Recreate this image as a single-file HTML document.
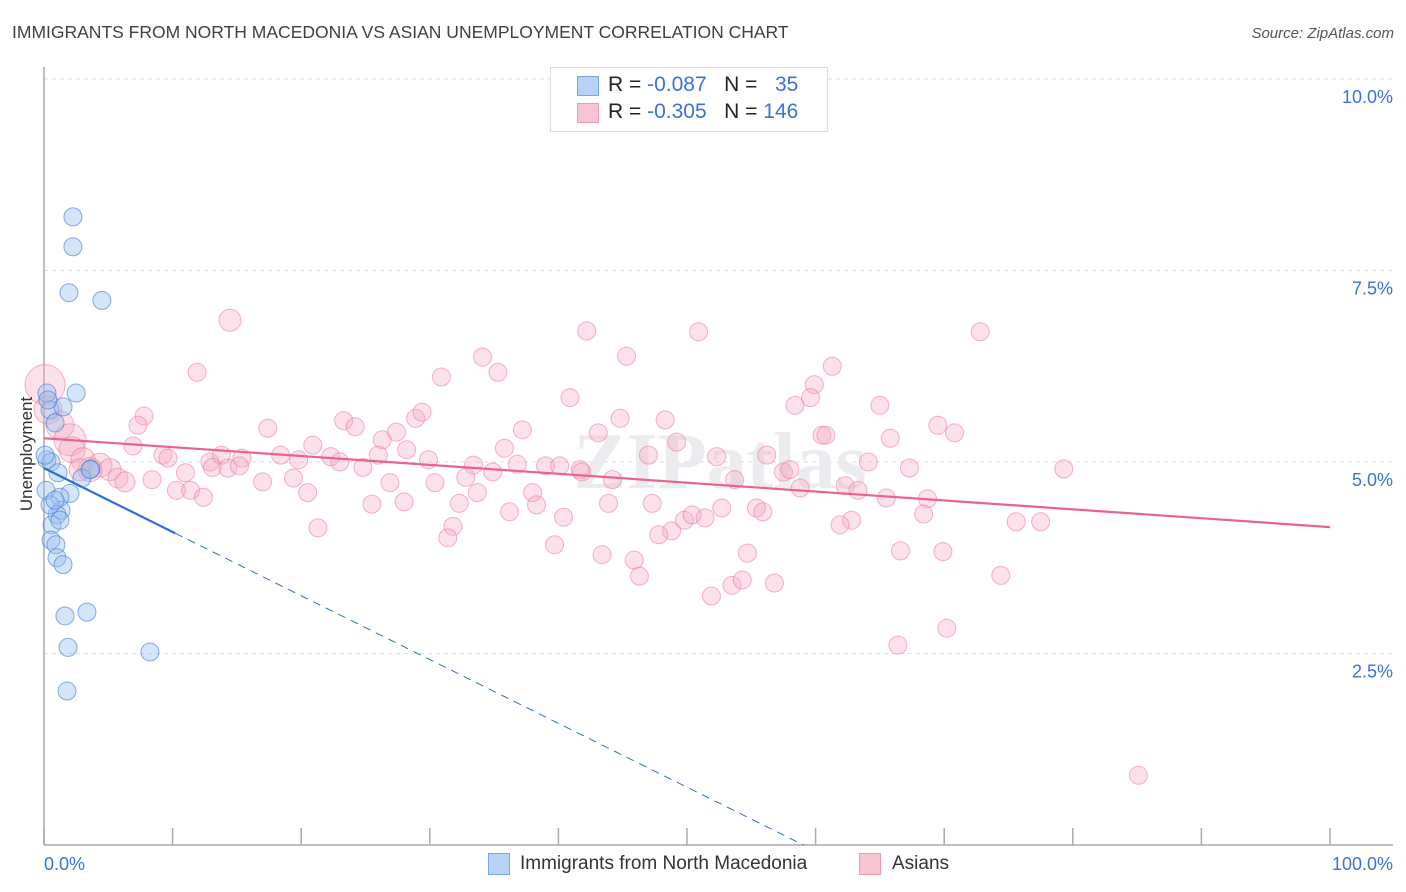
<!DOCTYPE html>
<html><head><meta charset="utf-8"><style>
body{margin:0;background:#fff;font-family:"Liberation Sans",sans-serif;}
#wrap{position:relative;width:1406px;height:892px;overflow:hidden;}
.t{position:absolute;white-space:nowrap;}
</style></head><body>
<div id="wrap">
<div class="t" style="left:12px;top:22px;font-size:17.5px;color:#404040;">IMMIGRANTS FROM NORTH MACEDONIA VS ASIAN UNEMPLOYMENT CORRELATION CHART</div>
<div class="t" style="right:12px;top:25px;font-size:15px;color:#555;font-style:italic;">Source: ZipAtlas.com</div>
<svg id="chart" width="1406" height="892" style="position:absolute;left:0;top:0"></svg>
<div style="position:absolute;left:550px;top:67px;width:276px;height:63px;border:1px solid #ddd;background:#fff;">
 <div style="position:absolute;left:26px;top:8px;width:20px;height:18px;background:#b7d2f7;border:1px solid #7aa6e6;"></div>
 <div class="t" style="left:57px;top:5px;font-size:21px;color:#222;">R = <span style="color:#3b72d8">-0.087</span>&nbsp;&nbsp;&nbsp;N = &nbsp;&nbsp;<span style="color:#3b72d8">35</span></div>
 <div style="position:absolute;left:26px;top:35px;width:20px;height:18px;background:#f9c5d3;border:1px solid #ee9ab2;"></div>
 <div class="t" style="left:57px;top:32px;font-size:21px;color:#222;">R = <span style="color:#3b72d8">-0.305</span>&nbsp;&nbsp;&nbsp;N = <span style="color:#3b72d8">146</span></div>
</div>
<div class="t" style="left:-30px;top:444px;font-size:17px;color:#333;transform:rotate(-90deg);">Unemployment</div>
<div style="position:absolute;left:488px;top:853px;width:20px;height:20px;background:#b7d2f7;border:1px solid #7aa6e6;"></div>
<div class="t" style="left:520px;top:853px;font-size:19px;color:#333;">Immigrants from North Macedonia</div>
<div style="position:absolute;left:859px;top:853px;width:20px;height:20px;background:#f9c5d3;border:1px solid #ee9ab2;"></div>
<div class="t" style="left:892px;top:853px;font-size:19px;color:#333;">Asians</div>
</div>
<script>
const yTicks=[2.5,5.0,7.5,10.0];
const yTickLabels=["2.5%","5.0%","7.5%","10.0%"];
const xTickCount=10;
const blueX=[2.25,2.25,1.94,4.5,2.5,0.23,0.47,1.48,0.86,0.23,0.54,1.09,3.65,2.95,2.02,0.16,1.24,1.32,1.01,0.62,0.54,0.93,1.01,1.48,1.63,3.34,1.87,8.24,1.79,0.47,0.08,1.24,0.31,3.58,0.86];
const blueY=[8.20,7.81,7.21,7.11,5.90,5.90,5.68,5.72,5.51,5.03,5.00,4.86,4.91,4.79,4.59,4.63,4.54,4.37,4.31,4.18,3.98,3.92,3.75,3.66,2.99,3.04,2.58,2.52,2.01,4.44,5.09,4.24,5.81,4.90,4.50];
const pinkX=[14.46,11.9,42.2,50.9,72.8,45.3,34.1,35.3,30.9,61.3,59.9,59.6,40.9,58.4,65.0,44.8,48.3,7.78,7.31,17.4,23.3,24.2,28.9,29.4,26.3,27.4,20.9,37.2,43.1,49.2,60.5,60.8,65.8,69.5,70.8,6.92,9.25,9.64,12.9,13.8,15.4,18.4,19.8,22.3,23.0,24.8,26.0,28.2,29.9,33.4,34.9,35.8,36.8,39.0,40.1,41.7,41.8,47.0,52.3,56.2,57.5,58.0,64.1,67.3,79.3,11.0,13.1,14.3,15.2,17.0,19.4,20.5,26.9,30.4,32.8,33.7,38.0,38.3,32.3,44.2,53.7,58.8,62.3,63.3,65.5,68.7,8.40,10.3,11.4,12.4,25.5,28.0,21.3,31.8,31.4,36.2,40.4,43.9,47.3,48.8,47.8,49.8,50.4,51.4,52.7,55.4,55.9,62.8,61.9,68.4,75.6,77.5,39.7,43.4,45.9,46.3,51.9,53.5,54.3,54.7,56.8,66.6,69.9,74.4,66.4,70.2,85.1,0.08,0.31,1.24,2.02,2.18,3.03,4.35,5.13,5.75,6.30,3.58,2.80];
const pinkY=[6.85,6.17,6.71,6.70,6.70,6.38,6.37,6.17,6.11,6.25,6.01,5.84,5.84,5.74,5.74,5.57,5.55,5.60,5.48,5.44,5.54,5.46,5.57,5.65,5.29,5.39,5.22,5.42,5.38,5.26,5.35,5.35,5.31,5.48,5.38,5.21,5.09,5.05,5.00,5.09,5.05,5.09,5.03,5.07,5.00,4.93,5.09,5.16,5.03,4.96,4.87,5.18,4.97,4.95,4.95,4.90,4.87,5.09,5.07,5.09,4.87,4.90,5.00,4.92,4.91,4.86,4.93,4.92,4.95,4.74,4.79,4.60,4.73,4.73,4.80,4.60,4.60,4.44,4.46,4.77,4.77,4.66,4.69,4.63,4.53,4.52,4.77,4.63,4.63,4.54,4.45,4.48,4.14,4.16,4.01,4.35,4.28,4.46,4.46,4.10,4.05,4.24,4.31,4.27,4.40,4.40,4.35,4.24,4.18,4.32,4.22,4.22,3.92,3.79,3.72,3.51,3.25,3.39,3.46,3.81,3.42,3.84,3.83,3.52,2.61,2.83,0.91,6.01,5.68,5.48,5.29,5.16,5.03,4.96,4.90,4.79,4.74,4.90,4.90];
const nearZeroR=[20,14,14,16,13,12,12,11,10,10,12,11];
const pinkTrend=[5.31,4.15];
const blueTrend=[4.92,-0.0833];
const X0=44,X1=1330,Y0=845,YS=76.6;
const sx=v=>X0+(X1-X0)*v/100, sy=v=>Y0-v*YS;
const svg=document.getElementById('chart');const NS='http://www.w3.org/2000/svg';
function mk(t,a){const e=document.createElementNS(NS,t);for(const k in a)e.setAttribute(k,a[k]);svg.appendChild(e);return e;}
yTicks.forEach((v,i)=>{
 const g=mk('line',{x1:44,x2:1393,y1:sy(v),y2:sy(v),stroke:'#ddd','stroke-dasharray':'4,4'});
 
 
 const t=mk('text',{x:1393,y:sy(v)+24,'text-anchor':'end','font-size':18,fill:'#3b72d8','font-family':'Liberation Sans'});
 t.textContent=yTickLabels[i];
 
 
});
const ax=mk('line',{x1:44,x2:44,y1:67,y2:845,stroke:'#aaa','stroke-width':1.5});


const bx=mk('line',{x1:44,x2:1393,y1:845,y2:845,stroke:'#aaa','stroke-width':1.5});


for(let i=0;i<=xTickCount;i++){const l=mk('line',{x1:sx(i*10),x2:sx(i*10),y1:828,y2:845,stroke:'#aaa','stroke-width':1.5});
 
 }
[["0.0%",44,'start'],["100.0%",1393,'end']].forEach(a=>{const t=mk('text',{x:a[1],y:870,'text-anchor':a[2],'font-size':18,fill:'#3b72d8','font-family':'Liberation Sans'});t.textContent=a[0];
 
 });
const wm=mk('text',{x:720,y:488,'text-anchor':'middle','font-size':80,fill:'#ececf0','font-family':'Liberation Serif','font-weight':'bold'});wm.textContent='ZIPatlas';


const nz=pinkX.length-nearZeroR.length;
pinkX.forEach((x,i)=>{const r=i>=nz?nearZeroR[i-nz]:(i===0?11:9);
 const c=mk('circle',{cx:sx(x),cy:sy(pinkY[i]),r:r,fill:'rgba(246,170,193,0.35)',stroke:'rgba(232,120,155,0.55)','stroke-width':1});
 
 });
blueX.forEach((x,i)=>{const c=mk('circle',{cx:sx(x),cy:sy(blueY[i]),r:9,fill:'rgba(150,190,240,0.4)',stroke:'rgba(60,120,210,0.6)','stroke-width':1});
 
 });
const pt=mk('line',{x1:sx(0),y1:sy(pinkTrend[0]),x2:sx(100),y2:sy(pinkTrend[1]),stroke:'#e8648f','stroke-width':2.2});


const bend=10.2, bzero=-blueTrend[0]/blueTrend[1];
const bt=mk('line',{x1:sx(0),y1:sy(blueTrend[0]),x2:sx(bend),y2:sy(blueTrend[0]+blueTrend[1]*bend),stroke:'#2a6fd6','stroke-width':2.2});


const bd=mk('line',{x1:sx(bend),y1:sy(blueTrend[0]+blueTrend[1]*bend),x2:sx(bzero),y2:sy(0),stroke:'#2a6fd6','stroke-width':1,'stroke-dasharray':'8,6'});


</script>
</body></html>
